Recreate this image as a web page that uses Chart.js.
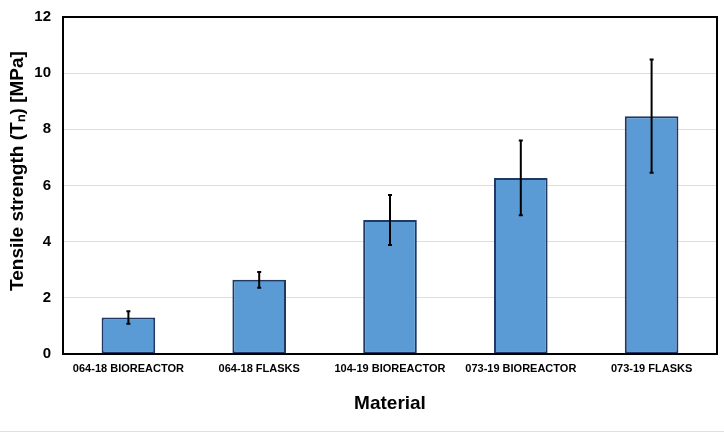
<!DOCTYPE html>
<html>
<head>
<meta charset="utf-8">
<script src="https://cdn.jsdelivr.net/npm/chart.js@4/dist/chart.umd.min.js"></script>
<style>
  html, body { margin: 0; padding: 0; background: #fff; }
  #wrap { width: 724px; height: 433px; position: relative; }
</style>
</head>
<body>
<div id="wrap"><canvas id="chart" width="724" height="433"></canvas></div>
<script>
// data
const materials = ["064-18 BIOREACTOR", "064-18 FLASKS", "104-19 BIOREACTOR", "073-19 BIOREACTOR", "073-19 FLASKS"];
const tensile = [1.3, 2.64, 4.77, 6.27, 8.47];
const tensileErr = [0.22, 0.28, 0.89, 1.33, 2.02];
const yTitle = "Tensile strength (T\u2099) [MPa]";

// error bars drawn from the y scale
const errorBars = {
  id: "errorBars",
  afterDatasetsDraw(chart) {
    const ctx = chart.ctx;
    const y = chart.scales.y;
    const meta = chart.getDatasetMeta(0);
    ctx.save();
    ctx.strokeStyle = "#000";
    ctx.lineWidth = 2;
    meta.data.forEach((bar, i) => {
      const top = y.getPixelForValue(tensile[i] + tensileErr[i]);
      const bot = y.getPixelForValue(tensile[i] - tensileErr[i]);
      ctx.beginPath();
      ctx.moveTo(bar.x, top); ctx.lineTo(bar.x, bot);
      ctx.moveTo(bar.x - 2, top); ctx.lineTo(bar.x + 2, top);
      ctx.moveTo(bar.x - 2, bot); ctx.lineTo(bar.x + 2, bot);
      ctx.stroke();
    });
    ctx.restore();
  }
};

// black frame round the plot area + the y title (sits a bit above centre in the original)
const frame = {
  id: "frame",
  afterDraw(chart) {
    const { ctx, chartArea: a } = chart;
    ctx.save();
    ctx.strokeStyle = "#000";
    ctx.lineWidth = 2;
    ctx.strokeRect(a.left, a.top, a.right - a.left, a.bottom - a.top);
    // faint line along the bottom of the figure
    ctx.strokeStyle = "#e0e0e0";
    ctx.lineWidth = 1;
    ctx.beginPath();
    ctx.moveTo(0, 431.5); ctx.lineTo(724, 431.5);
    ctx.stroke();

    ctx.translate(18, 171);
    ctx.rotate(-Math.PI / 2);
    ctx.fillStyle = "#000";
    ctx.font = "bold 19px 'Liberation Sans', Arial";
    ctx.textAlign = "center";
    ctx.textBaseline = "middle";
    ctx.fillText(yTitle, 0, 0);
    ctx.restore();
  }
};

new Chart(document.getElementById("chart"), {
  type: "bar",
  data: {
    labels: materials,
    datasets: [{
      data: tensile,
      backgroundColor: "#5B9BD5",
      borderColor: "#1F3864",
      borderWidth: 2,
      borderSkipped: false,
      categoryPercentage: 1,
      barPercentage: 0.41
    }]
  },
  options: {
    responsive: false,
    animation: false,
    layout: { padding: { top: 17, right: 7, left: 0, bottom: 0 } },
    plugins: { legend: { display: false }, tooltip: { enabled: false } },
    scales: {
      x: {
        grid: { display: false, drawTicks: false },
        border: { display: false },
        ticks: {
          color: "#000",
          padding: 8,
          maxRotation: 0,
          autoSkip: false,
          font: { family: "Liberation Sans, Arial", size: 11, weight: "bold" }
        },
        title: {
          display: true,
          text: "Material",
          color: "#000",
          padding: { top: 0, bottom: 18 },
          font: { family: "Liberation Sans, Arial", size: 19, weight: "bold" }
        },
        afterFit(s) { s.height = 79; }
      },
      y: {
        min: 0,
        max: 12,
        ticks: {
          stepSize: 2,
          color: "#000",
          padding: 12,
          font: { family: "Liberation Sans, Arial", size: 15, weight: "bold" }
        },
        grid: { color: "#dedede", lineWidth: 1, drawTicks: false },
        border: { display: false },
        afterFit(s) { s.width = 63; s.paddingTop = 0; s.paddingBottom = 0; }
      }
    }
  },
  plugins: [errorBars, frame]
});
</script>
</body>
</html>
